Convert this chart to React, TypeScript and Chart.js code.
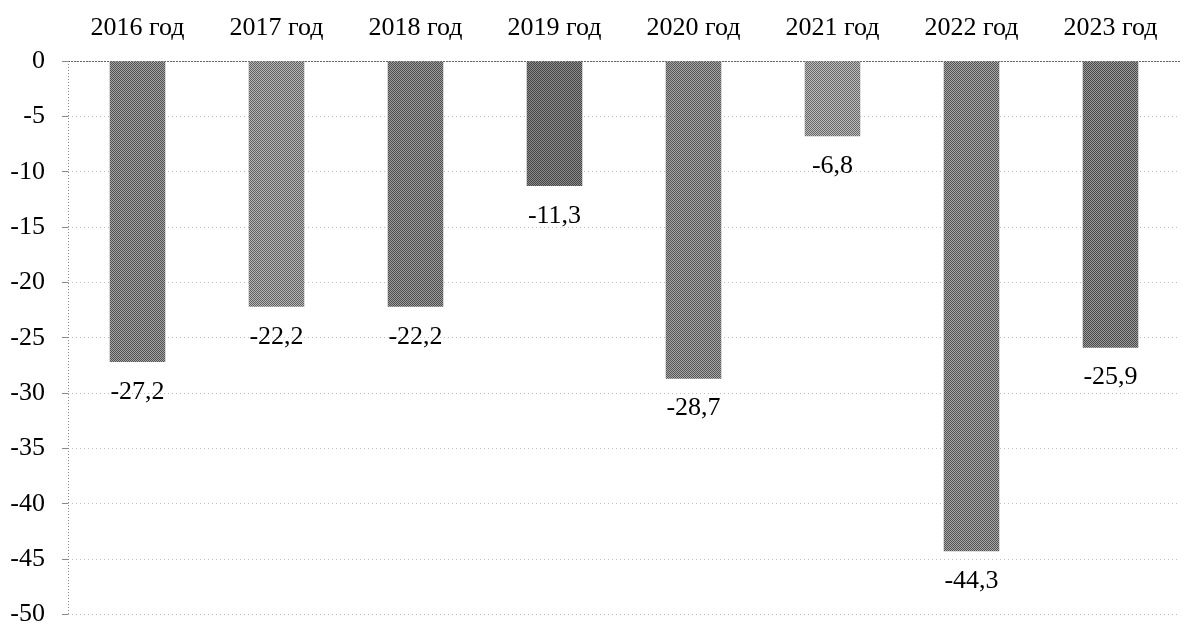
import React, { useEffect, useRef } from "react";
import { Chart, registerables } from "chart.js";

Chart.register(...registerables);

const categories = ["2016 год", "2017 год", "2018 год", "2019 год", "2020 год", "2021 год", "2022 год", "2023 год"];
const values = [-27.2, -22.2, -22.2, -11.3, -28.7, -6.8, -44.3, -25.9];
const yTicks = [0, -5, -10, -15, -20, -25, -30, -35, -40, -45, -50];
const valueLabels = ["-27,2", "-22,2", "-22,2", "-11,3", "-28,7", "-6,8", "-44,3", "-25,9"];

const barTones: [string, string][] = [
  ["#525252", "#a4a4a4"],
  ["#626262", "#b4b4b4"],
  ["#4e4e4e", "#9c9c9c"],
  ["#444444", "#8c8c8c"],
  ["#555555", "#a6a6a6"],
  ["#686868", "#bcbcbc"],
  ["#525252", "#a8a8a8"],
  ["#4a4a4a", "#9a9a9a"],
];

function makePattern(dark: string, light: string): CanvasPattern | string {
  const c = document.createElement("canvas");
  c.width = 4;
  c.height = 4;
  const g = c.getContext("2d");
  if (!g) return dark;
  for (let y = 0; y < 4; y++) {
    for (let x = 0; x < 4; x++) {
      g.fillStyle = (x + y) % 2 === 0 ? dark : light;
      g.fillRect(x, y, 1, 1);
    }
  }
  const p = g.createPattern(c, "repeat");
  return p || dark;
}

const FONT = "'Liberation Serif', 'Times New Roman', serif";
const FS = 26;

const decorPlugin = {
  id: "decor",
  beforeDatasetsDraw(chart: any) {
    const { ctx, chartArea } = chart;
    ctx.save();
    ctx.lineWidth = 1;
    ctx.strokeStyle = "#666";
    ctx.setLineDash([2, 1]);
    ctx.beginPath();
    ctx.moveTo(chartArea.left, chartArea.top + 0.5);
    ctx.lineTo(chartArea.right, chartArea.top + 0.5);
    ctx.stroke();
    ctx.strokeStyle = "#888";
    ctx.setLineDash([1, 2]);
    ctx.beginPath();
    ctx.moveTo(chartArea.left + 0.5, chartArea.top);
    ctx.lineTo(chartArea.left + 0.5, chartArea.bottom);
    ctx.stroke();
    ctx.restore();
  },
  afterDatasetsDraw(chart: any) {
    const { ctx } = chart;
    const meta = chart.getDatasetMeta(0);
    ctx.save();
    ctx.font = `${FS}px ${FONT}`;
    ctx.fillStyle = "#000";
    ctx.textAlign = "center";
    ctx.textBaseline = "middle";
    meta.data.forEach((bar: any, i: number) => {
      ctx.fillText(valueLabels[i], bar.x, bar.y + 30);
    });
    ctx.restore();
  },
};

export default function App() {
  const ref = useRef<HTMLCanvasElement>(null);
  useEffect(() => {
    document.body.style.margin = "0";
    if (!ref.current) return;
    const patterns = barTones.map(([d, l]) => makePattern(d, l));
    const chart = new Chart(ref.current, {
      type: "bar",
      data: {
        labels: categories,
        datasets: [
          {
            data: values,
            backgroundColor: patterns as any,
            borderWidth: 0,
            barPercentage: 0.4,
            categoryPercentage: 1,
          },
        ],
      },
      options: {
        animation: false,
        responsive: false,
        maintainAspectRatio: false,
        layout: { padding: { left: 0, right: 3, top: 0, bottom: 0 } },
        plugins: { legend: { display: false }, tooltip: { enabled: false } },
        scales: {
          x: {
            position: "top",
            grid: { display: false, drawTicks: false },
            border: { display: false },
            ticks: { color: "#000", font: { family: FONT, size: FS }, padding: 17, maxRotation: 0 },
            afterFit: (s: any) => {
              s.height = 61;
            },
          },
          y: {
            min: -50,
            max: 0,
            afterBuildTicks: (s: any) => {
              s.ticks = yTicks.map((v) => ({ value: v }));
            },
            grid: { color: "#bdbdbd", tickLength: 6, drawTicks: true, tickColor: "#888" },
            border: { display: false, dash: [1, 3] },
            ticks: {
              color: "#000",
              font: { family: FONT, size: FS },
              padding: 17,
              callback: (v: any) => String(v),
            },
            afterFit: (s: any) => {
              s.width = 68;
            },
          },
        },
      },
      plugins: [decorPlugin],
    });
    return () => chart.destroy();
  }, []);
  return (
    <div style={{ width: 1183, height: 624, background: "#fff", overflow: "hidden" }}>
      <canvas ref={ref} width={1183} height={647} style={{ display: "block" }} />
    </div>
  );
}
